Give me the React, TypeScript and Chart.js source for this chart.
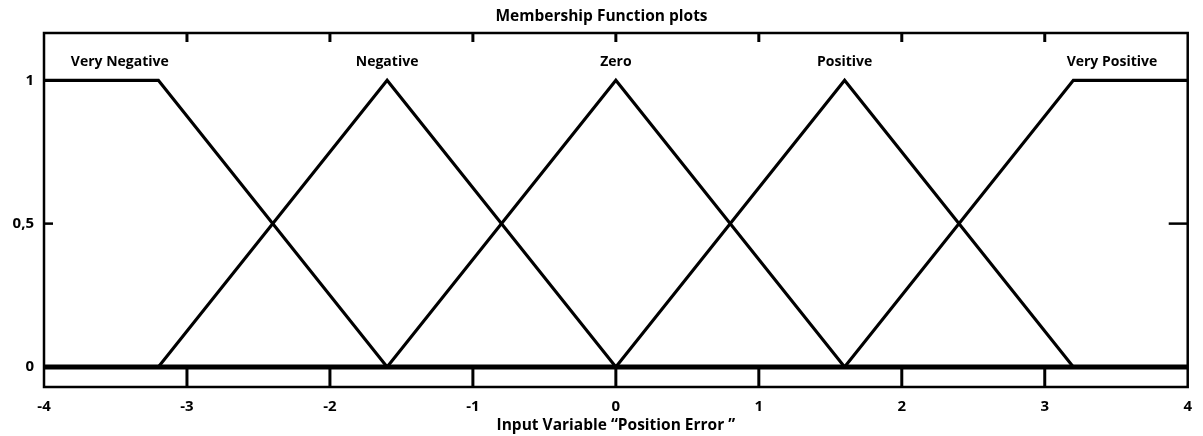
import React, { useEffect, useRef } from "react";
import { Chart, registerables } from "chart.js";

Chart.register(...registerables);

// ---- Data ----
const xTickValues = [-4, -3, -2, -1, 0, 1, 2, 3, 4];
const yTickValues = [0, 0.5, 1];
const yTickLabels = ["0", "0,5", "1"];

const veryNegX = [-4, -3.2, -1.6, 4];
const veryNegY = [1, 1, 0, 0];
const negativeX = [-4, -3.2, -1.6, 0, 4];
const negativeY = [0, 0, 1, 0, 0];
const zeroX = [-4, -1.6, 0, 1.6, 4];
const zeroY = [0, 0, 1, 0, 0];
const positiveX = [-4, 0, 1.6, 3.2, 4];
const positiveY = [0, 0, 1, 0, 0];
const veryPosX = [-4, 1.6, 3.2, 4];
const veryPosY = [0, 0, 1, 1];
const baselineX = [-4, 4];
const baselineY = [0, 0];

const mfNames = ["Very Negative", "Negative", "Zero", "Positive", "Very Positive"];
const mfNameX = [-3.47, -1.6, 0, 1.6, 3.47];
const mfNameY = [1.063, 1.063, 1.063, 1.063, 1.063];

const chartTitle = "Membership Function plots";
const xAxisTitle = "Input Variable \u201CPosition Error \u201D";

const FONT = "'Open Sans', Lato, sans-serif";

const toPts = (xs: number[], ys: number[]) => xs.map((x, i) => ({ x, y: ys[i] }));

const decorPlugin = {
  id: "decor",
  afterDatasetsDraw(chart: any) {
    const { ctx, chartArea: a, scales } = chart;
    const xs = scales.x;
    const ys = scales.y;
    ctx.save();
    ctx.strokeStyle = "#000";
    ctx.lineCap = "butt";
    // frame
    ctx.lineWidth = 2.5;
    ctx.strokeRect(a.left, a.top, a.right - a.left, a.bottom - a.top);
    // bottom ticks between frame bottom and y=0
    const y0 = ys.getPixelForValue(0);
    ctx.lineWidth = 3;
    xTickValues.slice(1, -1).forEach((v) => {
      const px = xs.getPixelForValue(v);
      ctx.beginPath();
      ctx.moveTo(px, a.bottom);
      ctx.lineTo(px, y0);
      ctx.stroke();
    });
    // top ticks
    xTickValues.slice(1, -1).forEach((v) => {
      const px = xs.getPixelForValue(v);
      ctx.beginPath();
      ctx.moveTo(px, a.top);
      ctx.lineTo(px, a.top + 9);
      ctx.stroke();
    });
    // left / right ticks
    ctx.lineWidth = 2.5;
    yTickValues.forEach((v) => {
      const py = ys.getPixelForValue(v);
      ctx.beginPath();
      ctx.moveTo(a.left, py);
      ctx.lineTo(a.left + 9, py);
      ctx.stroke();
      ctx.beginPath();
      ctx.moveTo(a.right - 19, py);
      ctx.lineTo(a.right, py);
      ctx.stroke();
    });
    // MF names
    ctx.fillStyle = "#000";
    ctx.font = `bold 14px ${FONT}`;
    ctx.textAlign = "center";
    ctx.textBaseline = "middle";
    mfNames.forEach((n, i) => {
      ctx.fillText(n, xs.getPixelForValue(mfNameX[i]), ys.getPixelForValue(mfNameY[i]));
    });
    ctx.restore();
  },
};

export default function App() {
  const ref = useRef<HTMLCanvasElement>(null);
  useEffect(() => {
    if (!ref.current) return;
    const lineDs = (xs: number[], ys: number[], w = 3.2) => ({
      data: toPts(xs, ys),
      borderColor: "#000",
      backgroundColor: "#000",
      borderWidth: w,
      pointRadius: 0,
      tension: 0,
      fill: false,
      clip: false as any,
    });
    const chart = new Chart(ref.current, {
      type: "line",
      data: {
        datasets: [
          lineDs(veryNegX, veryNegY),
          lineDs(negativeX, negativeY),
          lineDs(zeroX, zeroY),
          lineDs(positiveX, positiveY),
          lineDs(veryPosX, veryPosY),
          lineDs(baselineX, baselineY, 5),
        ],
      },
      options: {
        animation: false,
        responsive: true,
        maintainAspectRatio: false,
        layout: { padding: 0 },
        plugins: {
          legend: { display: false },
          tooltip: { enabled: false },
          title: {
            display: true,
            text: chartTitle,
            color: "#000",
            font: { family: FONT, size: 15.5, weight: "bold" },
            padding: { top: 7, bottom: 7.4 },
          },
        },
        scales: {
          x: {
            type: "linear",
            min: -4,
            max: 4,
            grid: { display: false, drawTicks: false },
            border: { display: false },
            afterBuildTicks: (s: any) => {
              s.ticks = xTickValues.map((v) => ({ value: v }));
            },
            afterFit: (s: any) => {
              s.height = 49;
            },
            ticks: {
              color: "#000",
              padding: 11,
              maxRotation: 0,
              autoSkip: false,
              font: { family: FONT, size: 15, weight: "bold" },
              callback: (v: any) => String(v),
            },
            title: {
              display: true,
              text: xAxisTitle,
              color: "#000",
              font: { family: FONT, size: 15.5, weight: "bold" },
              padding: { top: 0, bottom: 1.5 },
            },
          },
          y: {
            type: "linear",
            min: -0.07,
            max: 1.165,
            grid: { display: false, drawTicks: false },
            border: { display: false },
            afterBuildTicks: (s: any) => {
              s.ticks = yTickValues.map((v) => ({ value: v }));
            },
            afterFit: (s: any) => {
              s.width = 44;
            },
            ticks: {
              color: "#000",
              padding: 10,
              autoSkip: false,
              font: { family: FONT, size: 15, weight: "bold" },
              callback: (v: any) => {
                const i = yTickValues.indexOf(Number(v));
                return i >= 0 ? yTickLabels[i] : "";
              },
            },
          },
        },
      },
      plugins: [decorPlugin],
    });
    return () => chart.destroy();
  }, []);
  return (
    <div style={{ position: "absolute", left: 0, top: 0, width: 1203, height: 436, background: "#fff" }}>
      <canvas ref={ref} />
    </div>
  );
}
